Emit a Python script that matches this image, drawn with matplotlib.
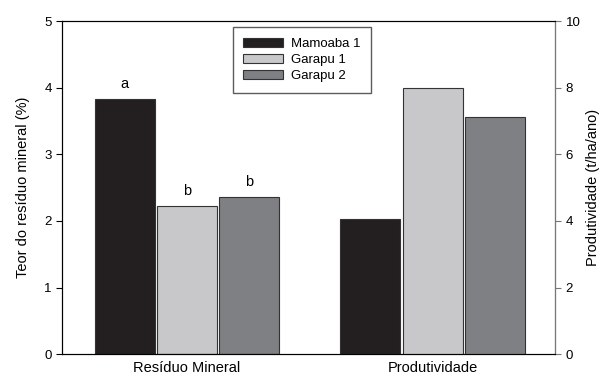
import numpy as np
import matplotlib.pyplot as plt

plt.rcParams['font.family'] = ['Liberation Sans', 'DejaVu Sans']

groups = ['Resíduo Mineral', 'Produtividade']
series = ['Mamoaba 1', 'Garapu 1', 'Garapu 2']
colors = ['#231f20', '#c8c8ca', '#7f8083']
residuo = [3.83, 2.22, 2.36]
produtividade = [4.07, 8.0, 7.12]
letters = ['a', 'b', 'b']

width = 0.244
step = 0.253
offsets = (np.arange(len(series)) - 1) * step

fig, ax = plt.subplots(figsize=(6.08, 3.78), dpi=100)
fig.subplots_adjust(left=0.102, right=0.913, top=0.944, bottom=0.063)
ax2 = ax.twinx()

handles = []
for i, name in enumerate(series):
    b = ax.bar(0 + offsets[i], residuo[i], width, color=colors[i],
               edgecolor='#333333', linewidth=0.8, label=name)
    handles.append(b)
    ax.text(0 + offsets[i], residuo[i] + 0.12, letters[i], ha='center',
            va='bottom', fontsize=10.5)
    ax2.bar(1 + offsets[i], produtividade[i], width, color=colors[i],
            edgecolor='#333333', linewidth=0.8)

ax.set_xlim(-0.509, 1.499)
ax.set_ylim(0, 5)
ax2.set_ylim(0, 10)
ax.set_yticks(range(0, 6))
ax2.set_yticks(range(0, 11, 2))
ax.set_xticks([0, 1])
ax.set_xticklabels(groups, fontsize=10.5)
ax.tick_params(axis='x', length=0, pad=5)
ax.tick_params(axis='y', labelsize=9.5, length=4, width=0.8)
ax2.tick_params(axis='y', labelsize=9.5, length=4, width=0.8, color='#777777')

ax.set_ylabel('Teor do resíduo mineral (%)', fontsize=10.5, labelpad=10)
ax2.set_ylabel('Produtividade (t/ha/ano)', fontsize=10.5, labelpad=4)

for a in (ax, ax2):
    for s in a.spines.values():
        s.set_linewidth(0.8)
ax2.spines['right'].set_color('#777777')

ax.legend(handles, series, loc='upper center', bbox_to_anchor=(0.486, 0.982),
          fontsize=9.5, frameon=True, fancybox=False, edgecolor='#333333',
          handlelength=3.0, handleheight=0.7, handletextpad=0.6,
          borderpad=0.8, borderaxespad=0, labelspacing=0.3)

fig.savefig('out.png', dpi=100)
